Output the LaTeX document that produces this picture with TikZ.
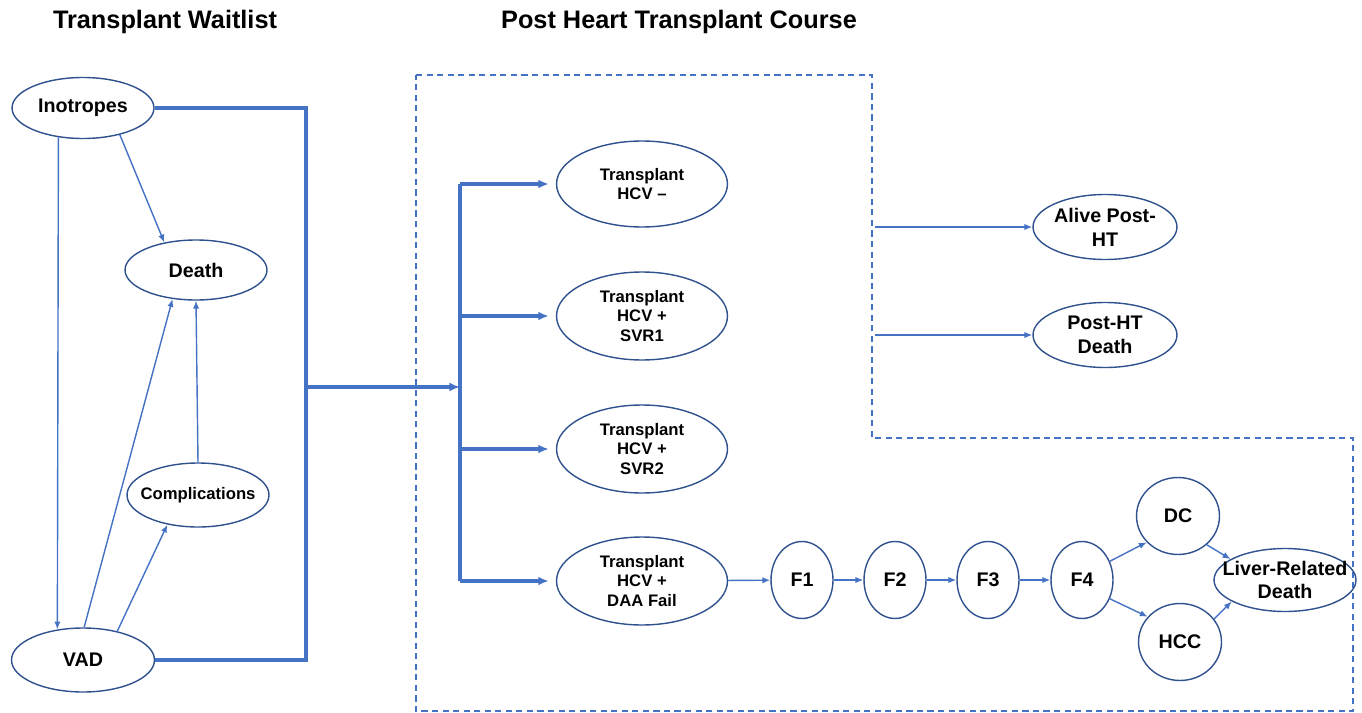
\documentclass[tikz,border=0pt]{standalone}
\usepackage{fontspec}
\setmainfont{Liberation Sans}
\usetikzlibrary{shapes.geometric,arrows.meta}

\definecolor{edgeblue}{RGB}{68,114,196}
\definecolor{rimblue}{RGB}{47,82,143}

\tikzset{
  state/.style={ellipse, draw=rimblue, line width=0.8pt, inner sep=-8pt, align=center,
    font=\bfseries\fontsize{11.2}{13.6}\selectfont},
  smalltext/.style={font=\bfseries\fontsize{9.5}{11.3}\selectfont},
  heading/.style={font=\bfseries\fontsize{14.4}{17}\selectfont},
  link/.style={draw=edgeblue, line width=0.8pt, -{Latex[length=4.5pt,width=3.6pt]}},
  bus/.style={draw=edgeblue, line width=2pt},
  busarrow/.style={bus, -{Latex[length=6pt,width=5pt]}},
  region/.style={draw=edgeblue, line width=1pt, dash pattern=on 3.5pt off 2.5pt}
}

\begin{document}
\begin{tikzpicture}[x=0.02cm,y=-0.02cm]
        \useasboundingbox (0,0) rectangle (1362,713);
        \draw[region] (416,75) -- (872,75) -- (872,438) -- (1353,438) -- (1353,711) -- (416,711) -- cycle;

        \node[heading] (waitlist) at (165,22) {Transplant Waitlist};
        \node[heading] (course) at (679,22) {Post Heart Transplant Course};

        % waitlist states
        \node[state, minimum width=2.84cm, minimum height=1.22cm] (ino) at (83,108) {Inotropes};
        \node[state, minimum width=2.84cm, minimum height=1.2cm] (death) at (196,270) {Death};
        \node[state, smalltext, minimum width=2.84cm, minimum height=1.28cm] (comp) at (198,495) {Complications};
        \node[state, minimum width=2.86cm, minimum height=1.28cm] (vad) at (83,660) {VAD};

        % transplant states
        \node[state, smalltext, minimum width=3.42cm, minimum height=1.72cm] (hcvneg) at (642,184) {Transplant\\HCV --};
        \node[state, smalltext, minimum width=3.42cm, minimum height=1.76cm] (svr1) at (642,316) {Transplant\\HCV +\\SVR1};
        \node[state, smalltext, minimum width=3.42cm, minimum height=1.76cm] (svr2) at (642,449) {Transplant\\HCV +\\SVR2};
        \node[state, smalltext, minimum width=3.42cm, minimum height=1.76cm] (daa) at (642,581) {Transplant\\HCV +\\DAA Fail};

        \node[state, minimum width=2.88cm, minimum height=1.3cm] (alive) at (1105,227) {Alive Post-\\HT};
        \node[state, minimum width=2.88cm, minimum height=1.3cm] (htdeath) at (1105,335) {Post-HT\\Death};

        \node[state, minimum width=1.24cm, minimum height=1.54cm] (F1) at (802,580) {F1};
        \node[state, minimum width=1.24cm, minimum height=1.54cm] (F2) at (895,580) {F2};
        \node[state, minimum width=1.24cm, minimum height=1.54cm] (F3) at (988,580) {F3};
        \node[state, minimum width=1.24cm, minimum height=1.54cm] (F4) at (1082,580) {F4};
        \node[state, minimum width=1.66cm, minimum height=1.54cm] (dc) at (1178,516) {DC};
        \node[state, minimum width=1.66cm, minimum height=1.54cm] (hcc) at (1180,642) {HCC};
        \node[state, minimum width=2.84cm, minimum height=1.26cm] (liver) at (1285,580) {Liver-Related\\Death};

        \coordinate (hub) at (306,387);
        \coordinate (trunk) at (460,387);
        \coordinate (boxedge) at (875,280);

        % waitlist moves
        \draw[link] (ino.230) -- (vad.130);
        \draw[link] (ino.324) -- (death.139);
        \draw[link] (vad.88) -- (death.231);
        \draw[link] (vad.40) -- (comp.224);
        \draw[link] (comp.north) -- (death.south);

        % to transplant
        \draw[bus] (ino.east) -| (hub) |- (vad.east);
        \draw[busarrow] (hub) -- (trunk);
        \draw[bus] (trunk |- hcvneg.west) -- (trunk |- daa.west);
        \foreach \t in {hcvneg,svr1,svr2,daa}
          \draw[busarrow, shorten >=4pt] (trunk |- \t.west) -- (\t.west);

        \draw[link] (boxedge |- alive.west) -- (alive.west);
        \draw[link] (boxedge |- htdeath.west) -- (htdeath.west);

        % fibrosis chain
        \foreach \a/\b in {daa/F1,F1/F2,F2/F3,F3/F4}
          \draw[link] (\a) -- (\b);
        \draw[link] (F4.34) -- (dc.220);
        \draw[link] (F4.326) -- (hcc.142);
        \draw[link] (dc.315) -- (liver.159);
        \draw[link] (hcc.34) -- (liver.202);
\end{tikzpicture}
\end{document}
